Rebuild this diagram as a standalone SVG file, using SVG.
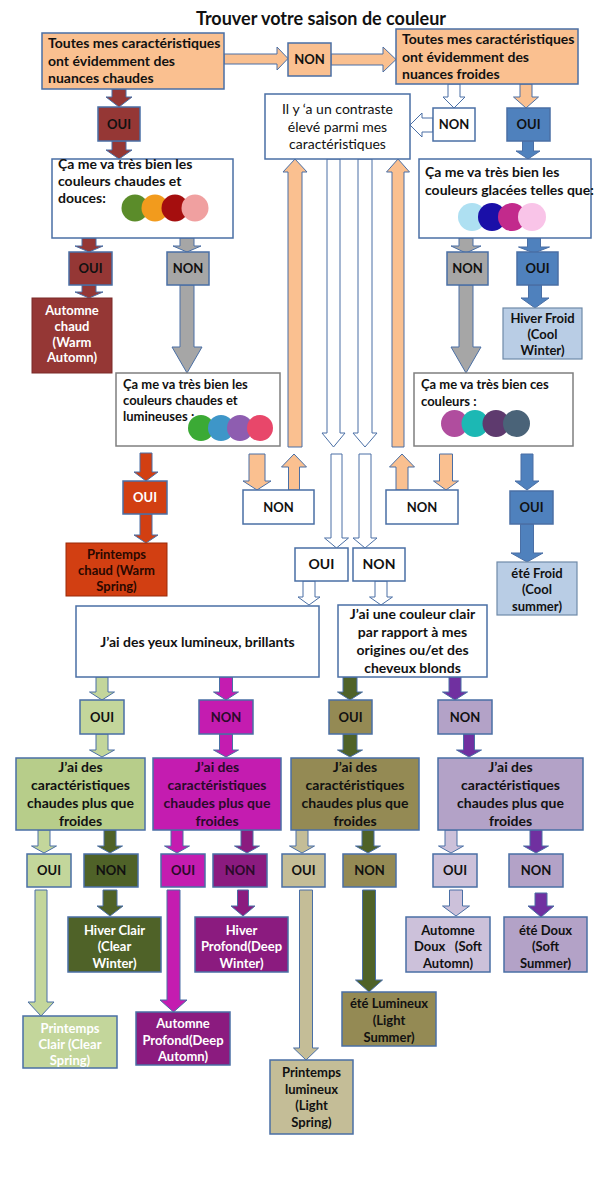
<svg xmlns="http://www.w3.org/2000/svg" width="600" height="1200" viewBox="0 0 600 1200">
<style>
.box{stroke:#4A6FA5;stroke-width:1.5}
.gb{stroke:#7F7F7F;stroke-width:1.5}
.arr{stroke:#4A6FA5;stroke-width:1}
text{font-family:Lato,'Liberation Sans',sans-serif;font-weight:bold;font-size:14px;fill:#111}
.c{text-anchor:middle}
.s13{font-size:13px}
.reg{font-weight:normal}
.w{fill:#fff}
.dk{fill:#2a0a2a}
.or{fill:#FAC090}.dr{fill:#953735}.gr{fill:#A6A6A6}.bl{fill:#4F81BD}.lb{fill:#B9CDE5}.rd{fill:#D23F12}
.wh{fill:#fff}.lg{fill:#C3D69B}.lg2{fill:#B7CD8A}.dg{fill:#4F6228}.mg{fill:#C41CB0}.dm{fill:#8B1B7F}
.ol{fill:#948A54}.tn{fill:#C4BD97}.lv{fill:#B3A2C7}.ll{fill:#CCC1DA}.pu{fill:#7030A0}
</style>
<rect width="600" height="1200" fill="#fff"/>
<text x="321" y="25" class="c" style="font-size:18px">Trouver votre saison de couleur</text>

<g id="connectors">
<polygon class="arr or" points="224,54 277,54 277,47 288,58.5 277,70 277,64 224,64"/>
<polygon class="arr or" points="331,54 383,54 383,47 396,59.5 383,72 383,65 331,65"/>
<polygon class="arr dr" points="112,89 126,89 126,97 132,97 119,107 106,97 112,97"/>
<polygon class="arr dr" points="112,141 126,141 126,150 132,150 119,159 106,150 112,150"/>
<polygon class="arr dr" points="82,238 96,238 96,246 103,246 89,252 75,246 82,246"/>
<polygon class="arr dr" points="82,285 96,285 96,292 103,292 89,298 75,292 82,292"/>
<polygon class="arr gr" points="180,238 194,238 194,246 201,246 187,252 173,246 180,246"/>
<polygon class="arr gr" points="180,285 194,285 194,347 202,347 187,373 172,347 180,347"/>
<polygon class="arr rd" points="140,453 152,453 152,472 158,472 146,481 134,472 140,472"/>
<polygon class="arr rd" points="140,514 152,514 152,535 158,535 146,543 134,535 140,535"/>
<polygon class="arr wh" points="448,84 460,84 460,97 465,97 454,108 443,97 448,97"/>
<polygon class="arr wh" points="433,118 422,118 422,113 410,125 422,137 422,132 433,132"/>
<polygon class="arr or" points="520,84 532,84 532,97 538.5,97 526,108 513.5,97 520,97"/>
<polygon class="arr bl" points="522.5,141 533.5,141 533.5,151 540,151 528,159 516,151 522.5,151"/>
<polygon class="arr gr" points="459,238 473,238 473,246 481,246 466,253 451,246 459,246"/>
<polygon class="arr gr" points="459,285 473,285 473,347 481,347 466,373 451,347 459,347"/>
<polygon class="arr bl" points="527.5,238 540.5,238 540.5,247 549.5,247 534,253 518.5,247 527.5,247"/>
<polygon class="arr bl" points="528.5,285 541.5,285 541.5,298 549,298 535,308 521,298 528.5,298"/>
<polygon class="arr or" points="439.5,454 452.5,454 452.5,481 458.5,481 446,490 433.5,481 439.5,481"/>
<polygon class="arr bl" points="521,454 533,454 533,481 539,481 527,490 515,481 521,481"/>
<polygon class="arr bl" points="520.5,524 533.5,524 533.5,553 543,553 527,562 511,553 520.5,553"/>
<polygon class="arr or" points="249,454 265,454 265,481 271,481 257,490 243,481 249,481"/>
<polygon class="arr or" points="288.5,490 299.5,490 299.5,467 306.5,467 294,454 281.5,467 288.5,467"/>
<polygon class="arr or" points="288,447 302,447 302,172 307,172 295,159 283,172 288,172"/>
<polygon class="arr wh" points="327,159 340,159 340,433 345,433 333.5,447 322,433 327,433"/>
<polygon class="arr wh" points="358,159 372,159 372,433 377,433 365,447 353,433 358,433"/>
<polygon class="arr or" points="392,447 404,447 404,172 409.5,172 398,159 386.5,172 392,172"/>
<polygon class="arr or" points="396,490 408,490 408,467 414.5,467 402,454 389.5,467 396,467"/>
<polygon class="arr wh" points="331,454 342,454 342,538 348.5,538 336.5,548 324.5,538 331,538"/>
<polygon class="arr wh" points="359,454 371,454 371,538 377,538 365,548 353,538 359,538"/>
<polygon class="arr wh" points="303,581 315,581 315,597 320,597 309,605 298,597 303,597"/>
<polygon class="arr wh" points="375,581 387,581 387,597 392.5,597 381,605 369.5,597 375,597"/>
<polygon class="arr lg" points="96,677 108,677 108,692 114.5,692 102,700 89.5,692 96,692"/>
<polygon class="arr lg" points="96,734 108,734 108,750 114.5,750 102,757 89.5,750 96,750"/>
<polygon class="arr mg" points="219.5,677 232.5,677 232.5,692 238.5,692 226,700 213.5,692 219.5,692"/>
<polygon class="arr mg" points="219.5,734 232.5,734 232.5,750 238.5,750 226,757 213.5,750 219.5,750"/>
<polygon class="arr dg" points="343,677 357,677 357,692 362.5,692 350,700 337.5,692 343,692"/>
<polygon class="arr dg" points="343,734 357,734 357,750 362.5,750 350,757 337.5,750 343,750"/>
<polygon class="arr pu" points="449,677 461,677 461,692 467.5,692 455,700 442.5,692 449,692"/>
<polygon class="arr pu" points="463.5,734 474.5,734 474.5,750 481.5,750 469,757 456.5,750 463.5,750"/>
<polygon class="arr lg" points="38,830 50,830 50,846 56.5,846 44,853 31.5,846 38,846"/>
<polygon class="arr dg" points="104,830 116,830 116,846 122.5,846 110,853 97.5,846 104,846"/>
<polygon class="arr mg" points="171,830 183,830 183,846 189.5,846 177,853 164.5,846 171,846"/>
<polygon class="arr dm" points="241,830 253,830 253,846 259.5,846 247,853 234.5,846 241,846"/>
<polygon class="arr tn" points="296,830 308,830 308,846 314.5,846 302,853 289.5,846 296,846"/>
<polygon class="arr dg" points="362,830 374,830 374,846 380.5,846 368,853 355.5,846 362,846"/>
<polygon class="arr ll" points="445,830 457,830 457,846 463.5,846 451,853 438.5,846 445,846"/>
<polygon class="arr pu" points="530,830 542,830 542,846 548.5,846 536,853 523.5,846 530,846"/>
<polygon class="arr lg" points="35,890 47,890 47,1002 54,1002 41,1016 28,1002 35,1002"/>
<polygon class="arr dg" points="103,890 117,890 117,906 123,906 110,916 97,906 103,906"/>
<polygon class="arr mg" points="167,890 180,890 180,1000 187,1000 173.5,1012 160,1000 167,1000"/>
<polygon class="arr dm" points="237.5,890 248.5,890 248.5,906 255,906 243,916 231,906 237.5,906"/>
<polygon class="arr tn" points="299.5,890 312.5,890 312.5,1048 318.5,1048 306,1060 293.5,1048 299.5,1048"/>
<polygon class="arr dg" points="362.5,890 375.5,890 375.5,980 382.5,980 369,992 355.5,980 362.5,980"/>
<polygon class="arr ll" points="449.5,890 462.5,890 462.5,906 469.5,906 456,916 442.5,906 449.5,906"/>
<polygon class="arr pu" points="535,893 547,893 547,906 554,906 541,917 528,906 535,906"/>
</g>

<g id="q-warm"><rect class="box or" x="42" y="33" width="182" height="56"/>
<text x="48" y="48">Toutes mes caractéristiques</text><text x="48" y="66">ont évidemment des</text><text x="48" y="83">nuances chaudes</text></g>
<g id="non-top"><rect class="box or" x="288" y="43" width="43" height="33"/><text x="309.5" y="64" class="c s13">NON</text></g>
<g id="q-cool"><rect class="box or" x="396" y="29" width="182" height="55"/>
<text x="402" y="44">Toutes mes caractéristiques</text><text x="402" y="62">ont évidemment des</text><text x="402" y="79">nuances froides</text></g>
<g id="q-contrast"><rect class="box wh" x="265" y="94" width="145" height="65"/>
<text x="337.5" y="114" class="c reg">Il y ‘a un contraste</text><text x="337.5" y="132" class="c reg">élevé parmi mes</text><text x="337.5" y="149" class="c reg">caractéristiques</text></g>
<g id="non-cool"><rect class="box wh" x="433" y="108" width="42" height="33"/><text x="454" y="129" class="c s13">NON</text></g>
<g id="oui-cool"><rect class="box bl" x="507" y="108" width="43" height="33"/><text x="528.5" y="129" class="c s13">OUI</text></g>
<g id="oui-warm"><rect class="box dr" x="98" y="107" width="42" height="34"/><text x="119" y="129" class="c s13">OUI</text></g>

<g id="q-douces"><rect class="box wh" x="52" y="159" width="181" height="79"/>
<text x="58" y="169">Ça me va très bien les</text><text x="58" y="186">couleurs chaudes et</text><text x="58" y="203">douces:</text>
<circle cx="135" cy="208" r="13.5" fill="#5B8C2A"/><circle cx="155" cy="208" r="13.5" fill="#F29B1D"/><circle cx="175" cy="208" r="13.5" fill="#A50E0E"/><circle cx="195" cy="208" r="13.5" fill="#F0A0A0"/></g>
<g id="q-glacees"><rect class="box wh" x="419" y="159" width="172" height="79"/>
<text x="425" y="177">Ça me va très bien les</text><text x="425" y="195">couleurs glacées telles que:</text>
<circle cx="472" cy="217" r="14" fill="#AEE0F2"/><circle cx="492" cy="217" r="14" fill="#1A0FA8"/><circle cx="512" cy="217" r="14" fill="#C22A8C"/><circle cx="532" cy="217" r="14" fill="#F9C4E8"/></g>

<g id="oui-douces"><rect class="box dr" x="69" y="252" width="43" height="33"/><text x="90.5" y="273" class="c s13">OUI</text></g>
<g id="non-douces"><rect class="box gr" x="167" y="252" width="42" height="33"/><text x="188" y="273" class="c s13">NON</text></g>
<g id="non-glacees"><rect class="box gr" x="447" y="252" width="41" height="33"/><text x="467.5" y="273" class="c s13">NON</text></g>
<g id="oui-glacees"><rect class="box bl" x="517" y="252" width="41" height="33"/><text x="537.5" y="273" class="c s13">OUI</text></g>

<g id="r-automne-chaud"><rect x="32" y="298" width="80" height="75" fill="#953735" stroke="#7a2a28" stroke-width="1"/>
<text x="72" y="315" class="c s13 w">Automne</text><text x="72" y="331" class="c s13 w">chaud</text><text x="72" y="347" class="c s13 w">(Warm</text><text x="72" y="362" class="c s13 w">Automn)</text></g>
<g id="r-hiver-froid"><rect x="503" y="308" width="79" height="51" fill="#B9CDE5" stroke="#6F8AA8" stroke-width="1.2"/>
<text x="542.5" y="323" class="c s13">Hiver Froid</text><text x="542.5" y="339" class="c s13">(Cool</text><text x="542.5" y="355" class="c s13">Winter)</text></g>

<g id="q-lumineuses"><rect class="gb wh" x="116" y="373" width="164" height="73"/>
<text x="123" y="389" class="s13">Ça me va très bien les</text><text x="123" y="405" class="s13">couleurs chaudes et</text><text x="123" y="421" class="s13">lumineuses :</text>
<circle cx="201" cy="428" r="13" fill="#3BAA35"/><circle cx="221" cy="428" r="13" fill="#3E96C8"/><circle cx="240" cy="428" r="13" fill="#8E5DB0"/><circle cx="260" cy="428" r="13" fill="#E8476A"/></g>
<g id="q-ces"><rect class="gb wh" x="414" y="373" width="159" height="73"/>
<text x="421" y="389" class="s13">Ça me va très bien ces</text><text x="421" y="406" class="s13">couleurs :</text>
<circle cx="454.5" cy="423.5" r="13.5" fill="#B04D9E"/><circle cx="475" cy="423.5" r="13.5" fill="#1CB8B4"/><circle cx="496" cy="423.5" r="13.5" fill="#5E3A6E"/><circle cx="516.5" cy="423.5" r="13.5" fill="#4A6378"/></g>

<g id="oui-lumineuses"><rect class="box rd" x="123" y="481" width="44" height="33"/><text x="145" y="502" class="c s13 w">OUI</text></g>
<g id="non-left"><rect class="box wh" x="243" y="490" width="71" height="34"/><text x="278.5" y="512" class="c s13">NON</text></g>
<g id="non-right"><rect class="box wh" x="386" y="490" width="72" height="34"/><text x="422" y="512" class="c s13">NON</text></g>
<g id="oui-ces"><rect class="box bl" x="510" y="491" width="43" height="33"/><text x="531.5" y="512" class="c s13">OUI</text></g>

<g id="r-printemps-chaud"><rect x="66" y="543" width="101" height="53" fill="#D23F12" stroke="#9a2a08" stroke-width="1"/>
<text x="116.5" y="559" class="c s13" style="fill:#2a0800">Printemps</text><text x="116.5" y="575" class="c s13" style="fill:#2a0800">chaud (Warm</text><text x="116.5" y="591" class="c s13" style="fill:#2a0800">Spring)</text></g>
<g id="r-ete-froid"><rect x="497" y="562" width="80" height="53" fill="#B9CDE5" stroke="#6F8AA8" stroke-width="1.2"/>
<text x="537" y="578" class="c s13">été Froid</text><text x="537" y="594" class="c s13">(Cool</text><text x="537" y="611" class="c s13">summer)</text></g>

<g id="oui-contrast"><rect class="box wh" x="295" y="548" width="53" height="33"/><text x="321.5" y="569" class="c">OUI</text></g>
<g id="non-contrast"><rect class="box wh" x="353" y="548" width="52" height="33"/><text x="379" y="569" class="c">NON</text></g>

<g id="q-yeux"><rect class="box wh" x="76" y="606" width="243" height="71"/>
<text x="197.5" y="647" class="c">J’ai des yeux lumineux, brillants</text></g>
<g id="q-clair"><rect class="box wh" x="338" y="605" width="149" height="72"/>
<text x="412.5" y="619" class="c">J’ai une couleur clair</text><text x="412.5" y="637" class="c">par rapport à mes</text><text x="412.5" y="655" class="c">origines ou/et des</text><text x="412.5" y="673" class="c">cheveux blonds</text></g>

<g id="oui-yeux"><rect class="box lg" x="80" y="700" width="44" height="34"/><text x="102" y="722" class="c s13">OUI</text></g>
<g id="non-yeux"><rect class="box mg" x="199" y="700" width="54" height="34"/><text x="226" y="722" class="c s13 dk">NON</text></g>
<g id="oui-clair"><rect class="box ol" x="329" y="700" width="43" height="34"/><text x="350.5" y="722" class="c s13">OUI</text></g>
<g id="non-clair"><rect class="box lv" x="438" y="700" width="54" height="34"/><text x="465" y="722" class="c s13">NON</text></g>

<g id="q-chaud-1"><rect class="box lg2" x="16" y="758" width="129" height="72"/>
<text x="80.5" y="772" class="c">J’ai des</text><text x="80.5" y="790" class="c">caractéristiques</text><text x="80.5" y="808" class="c">chaudes plus que</text><text x="80.5" y="826" class="c">froides</text></g>
<g id="q-chaud-2"><rect class="box mg" x="153" y="758" width="128" height="72"/>
<text x="217" y="772" class="c dk">J’ai des</text><text x="217" y="790" class="c dk">caractéristiques</text><text x="217" y="808" class="c dk">chaudes plus que</text><text x="217" y="826" class="c dk">froides</text></g>
<g id="q-chaud-3"><rect class="box ol" x="291" y="758" width="128" height="72"/>
<text x="355" y="772" class="c">J’ai des</text><text x="355" y="790" class="c">caractéristiques</text><text x="355" y="808" class="c">chaudes plus que</text><text x="355" y="826" class="c">froides</text></g>
<g id="q-chaud-4"><rect class="box lv" x="438" y="758" width="145" height="72"/>
<text x="510.5" y="772" class="c">J’ai des</text><text x="510.5" y="790" class="c">caractéristiques</text><text x="510.5" y="808" class="c">chaudes plus que</text><text x="510.5" y="826" class="c">froides</text></g>

<g id="oui-1"><rect class="box lg" x="27" y="854" width="44" height="33"/><text x="49" y="875" class="c s13">OUI</text></g>
<g id="non-1"><rect class="box dg" x="84" y="854" width="54" height="33"/><text x="111" y="875" class="c s13">NON</text></g>
<g id="oui-2"><rect class="box mg" x="161" y="854" width="44" height="33"/><text x="183" y="875" class="c s13 dk">OUI</text></g>
<g id="non-2"><rect class="box dm" x="213" y="854" width="54" height="33"/><text x="240" y="875" class="c s13 dk">NON</text></g>
<g id="oui-3"><rect class="box tn" x="282" y="854" width="43" height="33"/><text x="303.5" y="875" class="c s13">OUI</text></g>
<g id="non-3"><rect class="box ol" x="343" y="854" width="53" height="33"/><text x="369.5" y="875" class="c s13">NON</text></g>
<g id="oui-4"><rect class="box ll" x="433" y="854" width="44" height="33"/><text x="455" y="875" class="c s13">OUI</text></g>
<g id="non-4"><rect class="box lv" x="509" y="854" width="54" height="33"/><text x="536" y="875" class="c s13">NON</text></g>

<g id="r-hiver-clair"><rect class="box dg" x="68" y="917" width="93" height="55"/>
<text x="114.5" y="935" class="c s13 w">Hiver Clair</text><text x="114.5" y="951" class="c s13 w">(Clear</text><text x="114.5" y="968" class="c s13 w">Winter)</text></g>
<g id="r-hiver-profond"><rect class="box dm" x="195" y="917" width="93" height="55"/>
<text x="241.5" y="935" class="c s13 w">Hiver</text><text x="241.5" y="951" class="c s13 w">Profond(Deep</text><text x="241.5" y="968" class="c s13 w">Winter)</text></g>
<g id="r-automne-doux"><rect class="box ll" x="406" y="917" width="84" height="55"/>
<text x="448" y="935" class="c s13">Automne</text><text x="448" y="951" class="c s13" style="white-space:pre">Doux   (Soft</text><text x="448" y="968" class="c s13">Automn)</text></g>
<g id="r-ete-doux"><rect class="box lv" x="504" y="917" width="83" height="55"/>
<text x="545.5" y="935" class="c s13">été Doux</text><text x="545.5" y="951" class="c s13">(Soft</text><text x="545.5" y="968" class="c s13">Summer)</text></g>
<g id="r-ete-lumineux"><rect class="box ol" x="342" y="992" width="94" height="54"/>
<text x="389" y="1008" class="c s13">été Lumineux</text><text x="389" y="1025" class="c s13">(Light</text><text x="389" y="1042" class="c s13">Summer)</text></g>
<g id="r-automne-profond"><rect class="box dm" x="136" y="1012" width="94" height="53"/>
<text x="183" y="1028" class="c s13 w">Automne</text><text x="183" y="1045" class="c s13 w">Profond(Deep</text><text x="183" y="1061" class="c s13 w">Automn)</text></g>
<g id="r-printemps-clair"><rect class="box lg" x="23" y="1016" width="94" height="52"/>
<text x="70" y="1033" class="c s13 w">Printemps</text><text x="70" y="1049" class="c s13 w">Clair (Clear</text><text x="70" y="1065" class="c s13 w">Spring)</text></g>
<g id="r-printemps-lumineux"><rect class="box tn" x="270" y="1060" width="83" height="74"/>
<text x="311.5" y="1077" class="c s13">Printemps</text><text x="311.5" y="1094" class="c s13">lumineux</text><text x="311.5" y="1110" class="c s13">(Light</text><text x="311.5" y="1127" class="c s13">Spring)</text></g>
</svg>
